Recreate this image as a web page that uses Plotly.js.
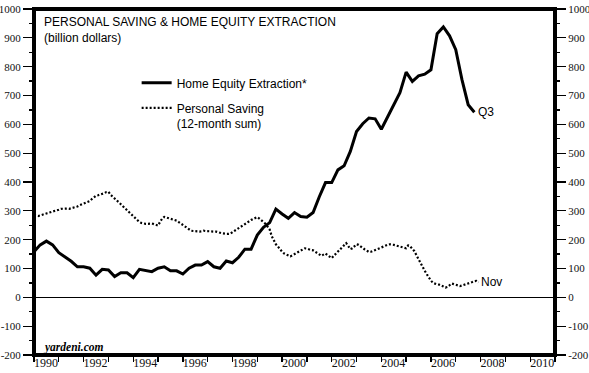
<!DOCTYPE html>
<html><head><meta charset="utf-8">
<script src="https://cdn.plot.ly/plotly-3.0.1.min.js"></script>
<style>html,body{margin:0;padding:0;background:#fff}#chart{width:589px;height:373px}</style>
</head><body><div id="chart"></div>
<script>
// Home equity extraction, quarterly, billion dollars (first point Q4 1989, last Q3 2007), plotted at quarter end
const equityStartYear = 1990.0;
const equityValues = [
  158, 182, 195, 182, 155, 141, 125, 106,
  106, 101, 77, 97, 95, 72, 85, 85,
  68, 97, 92, 89, 101, 106, 92, 92,
  81, 101, 112, 112, 124, 106, 101, 126,
  120, 139, 167, 167, 216, 243, 259, 306,
  289, 274, 294, 280, 278, 294, 349, 398,
  398, 442, 456, 506, 575, 602, 622, 619,
  583, 625, 664, 710, 781, 749, 768, 774,
  789, 914, 938, 907, 859, 755, 668, 642
];
// Personal saving, 12-month sum, monthly (Dec 1989 .. Nov 2007), plotted at month end
const savingStartYear = 1990.0;
const savingValues = [
  285, 284, 282, 284, 287, 289, 291, 293, 295, 296, 298, 301,
  304, 307, 308, 309, 308, 307, 309, 311, 312, 315, 319, 323,
  325, 328, 331, 334, 341, 347, 352, 354, 356, 358, 361, 365,
  366, 356, 350, 343, 337, 330, 323, 316, 309, 302, 294, 287,
  280, 274, 267, 261, 258, 256, 255, 255, 256, 256, 254, 252,
  249, 262, 273, 279, 277, 276, 273, 271, 268, 266, 261, 256,
  250, 244, 238, 234, 231, 230, 229, 228, 228, 229, 231, 230,
  229, 229, 228, 228, 228, 227, 224, 222, 220, 220, 220, 221,
  226, 231, 236, 241, 246, 250, 255, 259, 264, 268, 272, 275,
  278, 273, 268, 262, 255, 245, 235, 212, 195, 184, 176, 166,
  158, 152, 148, 145, 142, 146, 150, 154, 157, 161, 166, 170,
  169, 166, 164, 163, 158, 152, 146, 144, 148, 152, 146, 140,
  136, 144, 152, 157, 166, 175, 183, 188, 178, 167, 170, 177,
  184, 182, 176, 170, 166, 162, 157, 158, 161, 165, 169, 172,
  175, 178, 180, 182, 184, 184, 182, 180, 178, 175, 173, 171,
  170, 180, 176, 168, 160, 146, 131, 118, 105, 92, 80, 68,
  58, 50, 47, 45, 44, 42, 38, 34, 36, 42, 48, 46,
  43, 41, 39, 41, 43, 45, 47, 50, 53, 56, 57, 52
];
const xTickVals = [1990,1991,1992,1993,1994,1995,1996,1997,1998,1999,2000,2001,2002,2003,2004,2005,2006,2007,2008,2009,2010,2011];
const xTickText = ['1990','','1992','','1994','','1996','','1998','','2000','','2002','','2004','','2006','','2008','','2010',''];
const yTickVals = [-200,-100,0,100,200,300,400,500,600,700,800,900,1000];
const yTickText = ['-200','-100','0','100','200','300','400','500','600','700','800','900','1000'];
const equityName = 'Home Equity Extraction*';
const savingName = 'Personal Saving<br>(12-month sum)';
const equityEndLabel = 'Q3';
const savingEndLabel = 'Nov';
const titleText = 'PERSONAL SAVING &amp; HOME EQUITY EXTRACTION<br>(billion dollars)';
const sourceText = '<b><i>yardeni.com</i></b>';

const equityX = equityValues.map((v, i) => equityStartYear + i * 0.25);
const savingX = savingValues.map((v, i) => savingStartYear + i / 12);

const tickFont = {family: 'Liberation Serif, Times New Roman, serif', size: 11, color: '#111'};
const sans = 'Liberation Sans, Arial, sans-serif';

const yCommon = {
  range: [-200, 1000],
  tickmode: 'array', tickvals: yTickVals, ticktext: yTickText,
  ticks: 'outside', ticklen: 10, tickwidth: 1.3, tickcolor: '#000',
  tickfont: tickFont, showgrid: false, showline: false,
  minor: {tickmode: 'linear', tick0: -200, dtick: 50, ticks: 'outside', ticklen: 4, tickwidth: 1.3, tickcolor: '#000', showgrid: false},
  fixedrange: true
};

const traces = [
  {x: equityX, y: equityValues, name: equityName, legendgroup: 'a', type: 'scatter', mode: 'lines',
   line: {color: '#000', width: 3}, hoverinfo: 'skip'},
  {x: savingX, y: savingValues, name: savingName, legendgroup: 'b', type: 'scatter', mode: 'lines', yaxis: 'y2',
   line: {color: '#000', width: 2.2, dash: '2px,2px'}, hoverinfo: 'skip'}
];

const layout = {
  width: 589, height: 373,
  margin: {l: 34, r: 34, t: 9, b: 18, pad: 0},
  paper_bgcolor: '#fff', plot_bgcolor: '#fff',
  xaxis: {
    range: [1990, 2011],
    tickmode: 'array', tickvals: xTickVals, ticktext: xTickText,
    ticks: 'outside', ticklen: 6, tickwidth: 1.3, tickcolor: '#000',
    ticklabelshift: 12, ticklabelstandoff: -9,
    tickfont: {family: 'Liberation Serif, Times New Roman, serif', size: 12, color: '#111'},
    showgrid: false, zeroline: false, showline: false, fixedrange: true
  },
  yaxis: Object.assign({}, yCommon, {side: 'left', zeroline: true, zerolinecolor: '#000', zerolinewidth: 1.5}),
  yaxis2: Object.assign({}, yCommon, {side: 'right', overlaying: 'y', zeroline: false}),
  showlegend: true,
  legend: {
    x: 0.197, xanchor: 'left', y: 0.828, yanchor: 'top',
    bgcolor: 'rgba(0,0,0,0)', borderwidth: 0,
    font: {family: sans, size: 12, color: '#000'},
    valign: 'top', traceorder: 'grouped', tracegroupgap: 6, itemwidth: 30
  },
  shapes: [
    {type: 'rect', xref: 'paper', yref: 'paper', x0: 0, x1: 1, y0: 0, y1: 1,
     line: {color: '#000', width: 4}, layer: 'above'}
  ],
  annotations: [
    {xref: 'paper', yref: 'paper', x: 0.0148, y: 1 - (12.5 - 9) / 346, xanchor: 'left', yanchor: 'top',
     align: 'left', text: titleText, showarrow: false,
     font: {family: sans, size: 12, color: '#000'}},
    {xref: 'paper', yref: 'paper', x: 0.0129, y: 1 - (347.5 - 9) / 346, xanchor: 'left', yanchor: 'middle',
     text: sourceText, showarrow: false,
     font: {family: 'Liberation Serif, Times New Roman, serif', size: 11.5, color: '#000'}},
    {xref: 'x', yref: 'y', x: equityX[equityX.length - 1], y: equityValues[equityValues.length - 1],
     xanchor: 'left', yanchor: 'middle', xshift: 2, text: equityEndLabel, showarrow: false,
     font: {family: sans, size: 12, color: '#000'}},
    {xref: 'x', yref: 'y2', x: savingX[savingX.length - 1], y: savingValues[savingValues.length - 1],
     xanchor: 'left', yanchor: 'middle', xshift: 0, text: savingEndLabel, showarrow: false,
     font: {family: sans, size: 12, color: '#000'}}
  ]
};

Plotly.newPlot('chart', traces, layout, {staticPlot: true, displayModeBar: false});
</script>
</body></html>
